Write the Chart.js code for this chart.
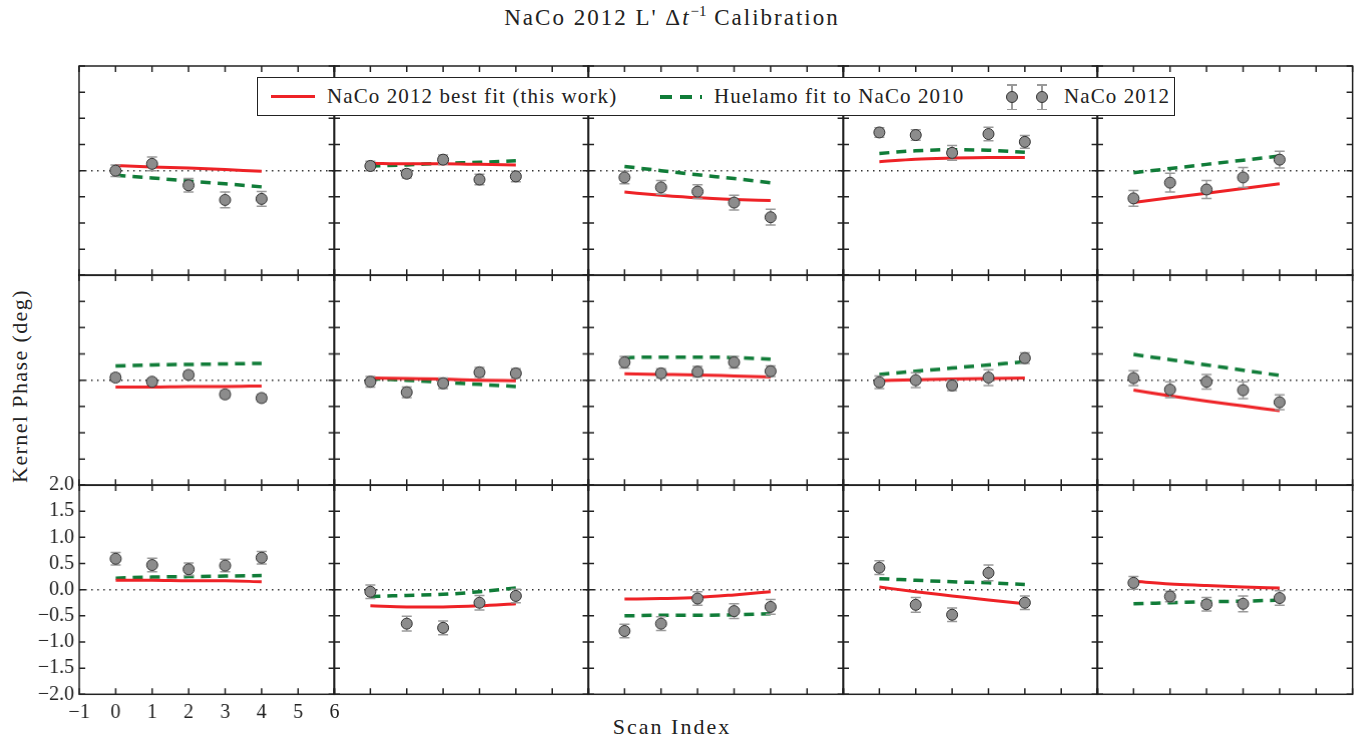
<!DOCTYPE html>
<html>
<head>
<meta charset="utf-8">
<script src="https://cdn.jsdelivr.net/npm/chart.js@4.4.0/dist/chart.umd.min.js"></script>
<style>
  html, body { margin: 0; padding: 0; background: #fff; }
  body { width: 1359px; height: 740px; position: relative; overflow: hidden; font-family: "Liberation Serif", serif; color: #222; }
  .panel { position: absolute; }
  .panel canvas { display: block; }
  #title { position: absolute; left: 0; width: 1344px; top: 3px; text-align: center; font-size: 23px; letter-spacing: 2px; }
  #title sup { font-size: 15px; letter-spacing: 0; }
  #xlabel { position: absolute; left: 0; width: 1344px; top: 714px; text-align: center; font-size: 22px; letter-spacing: 2px; }
  #ylabel { position: absolute; left: 20px; top: 386px; transform: translate(-50%, -50%) rotate(-90deg); white-space: nowrap; font-size: 22px; letter-spacing: 1.4px; }
  #legend { position: absolute; left: 257px; top: 77px; width: 916px; height: 37px; border: 1.5px solid #222; background: #fff; font-size: 21px; letter-spacing: 1.1px; }
  #legend .txt { position: absolute; top: 6px; white-space: nowrap; }
  #legend .sw { position: absolute; }
</style>
</head>
<body>
<div id="title">NaCo 2012 L' Δ<i>t</i><sup>−1</sup> Calibration</div>
<div id="ylabel">Kernel Phase (deg)</div>
<div id="xlabel">Scan Index</div>
<div id="charts"></div>
<div id="legend">
  <div class="sw" style="left:13px; top:17px; width:44px; height:3px; background:rgb(238,34,38);"></div>
  <div class="txt" style="left:69px;">NaCo 2012 best fit (this work)</div>
  <div class="sw" style="left:402px; top:17px; width:42px; height:4px; background:repeating-linear-gradient(90deg, rgb(16,124,56) 0 12px, transparent 12px 20px);"></div>
  <div class="txt" style="left:456px;">Huelamo fit to NaCo 2010</div>
  <div class="sw" style="left:746px; top:6px; width:16px; height:26px;">
    <div style="position:absolute; left:7px; top:0; width:1.5px; height:26px; background:#999;"></div>
    <div style="position:absolute; left:3px; top:0; width:10px; height:1.5px; background:#999;"></div>
    <div style="position:absolute; left:3px; top:24.5px; width:10px; height:1.5px; background:#999;"></div>
    <div style="position:absolute; left:2px; top:7px; width:10px; height:10px; border-radius:50%; background:#8c8c8c; border:1px solid #333;"></div>
  </div>
  <div class="sw" style="left:776px; top:6px; width:16px; height:26px;">
    <div style="position:absolute; left:7px; top:0; width:1.5px; height:26px; background:#999;"></div>
    <div style="position:absolute; left:3px; top:0; width:10px; height:1.5px; background:#999;"></div>
    <div style="position:absolute; left:3px; top:24.5px; width:10px; height:1.5px; background:#999;"></div>
    <div style="position:absolute; left:2px; top:7px; width:10px; height:10px; border-radius:50%; background:#8c8c8c; border:1px solid #333;"></div>
  </div>
  <div class="txt" style="left:806px;">NaCo 2012</div>
</div>

<script>
// Data: 15 kernel phases, 5 scans each (rows of 5 panels, top to bottom)
const scanIndex = [0, 1, 2, 3, 4];

const naco2012 = [
  [0.00, 0.13, -0.28, -0.56, -0.54],
  [0.09, -0.06, 0.21, -0.17, -0.11],
  [-0.13, -0.32, -0.40, -0.61, -0.89],
  [0.73, 0.68, 0.34, 0.70, 0.55],
  [-0.53, -0.23, -0.36, -0.13, 0.21],
  [0.05, -0.03, 0.10, -0.27, -0.34],
  [-0.03, -0.23, -0.06, 0.15, 0.13],
  [0.34, 0.13, 0.16, 0.34, 0.17],
  [-0.04, 0.00, -0.10, 0.05, 0.42],
  [0.04, -0.18, -0.03, -0.19, -0.42],
  [0.59, 0.47, 0.39, 0.46, 0.61],
  [-0.04, -0.65, -0.73, -0.25, -0.12],
  [-0.79, -0.65, -0.17, -0.41, -0.33],
  [0.42, -0.29, -0.48, 0.32, -0.25],
  [0.13, -0.13, -0.28, -0.27, -0.16]
];

const naco2012Err = [
  [0.11, 0.13, 0.13, 0.15, 0.14],
  [0.09, 0.08, 0.09, 0.10, 0.10],
  [0.12, 0.13, 0.13, 0.14, 0.15],
  [0.09, 0.10, 0.14, 0.13, 0.12],
  [0.15, 0.18, 0.17, 0.19, 0.16],
  [0.07, 0.06, 0.07, 0.07, 0.07],
  [0.10, 0.10, 0.10, 0.09, 0.09],
  [0.11, 0.09, 0.10, 0.11, 0.10],
  [0.12, 0.14, 0.10, 0.15, 0.10],
  [0.14, 0.15, 0.14, 0.16, 0.14],
  [0.12, 0.13, 0.12, 0.12, 0.12],
  [0.13, 0.14, 0.13, 0.14, 0.13],
  [0.13, 0.13, 0.13, 0.14, 0.14],
  [0.13, 0.14, 0.13, 0.15, 0.13],
  [0.12, 0.10, 0.13, 0.15, 0.14]
];

const bestFit = [
  [0.10, 0.07, 0.05, 0.02, -0.01],
  [0.14, 0.13, 0.13, 0.12, 0.11],
  [-0.41, -0.47, -0.52, -0.55, -0.57],
  [0.17, 0.22, 0.24, 0.25, 0.25],
  [-0.61, -0.52, -0.43, -0.34, -0.25],
  [-0.13, -0.13, -0.12, -0.12, -0.11],
  [0.04, 0.03, 0.02, 0.00, -0.01],
  [0.12, 0.11, 0.10, 0.08, 0.06],
  [-0.01, 0.01, 0.02, 0.03, 0.04],
  [-0.19, -0.30, -0.40, -0.49, -0.58],
  [0.18, 0.18, 0.17, 0.17, 0.15],
  [-0.31, -0.33, -0.33, -0.31, -0.27],
  [-0.18, -0.17, -0.15, -0.10, -0.04],
  [0.05, -0.04, -0.12, -0.20, -0.27],
  [0.16, 0.11, 0.08, 0.05, 0.03]
];

const huelamoFit = [
  [-0.09, -0.14, -0.20, -0.25, -0.31],
  [0.09, 0.11, 0.14, 0.16, 0.19],
  [0.08, 0.00, -0.08, -0.15, -0.23],
  [0.33, 0.38, 0.40, 0.39, 0.35],
  [-0.04, 0.04, 0.12, 0.20, 0.28],
  [0.27, 0.29, 0.30, 0.31, 0.32],
  [0.03, 0.00, -0.04, -0.08, -0.12],
  [0.43, 0.44, 0.44, 0.43, 0.40],
  [0.11, 0.17, 0.23, 0.29, 0.35],
  [0.49, 0.39, 0.29, 0.19, 0.09],
  [0.22, 0.24, 0.25, 0.26, 0.27],
  [-0.13, -0.11, -0.09, -0.04, 0.03],
  [-0.50, -0.49, -0.49, -0.48, -0.46],
  [0.21, 0.18, 0.15, 0.13, 0.10],
  [-0.27, -0.25, -0.23, -0.22, -0.20]
];

const xTicks = [-1, 0, 1, 2, 3, 4, 5, 6];
const yTicks = [-2.0, -1.5, -1.0, -0.5, 0.0, 0.5, 1.0, 1.5, 2.0];

// Layout
const GRID_LEFT = 79, GRID_TOP = 66;
const PANEL_W = 254.6, PANEL_H = 209.3;
const PAD = 4;
const RED = 'rgb(238,34,38)';
const GREEN = 'rgb(16,124,56)';
const FONT = '"Liberation Serif", serif';

function toPoints(vals) {
  return scanIndex.map((x, i) => ({ x: x, y: vals[i] }));
}

function minusSign(v) {
  return String(v).replace('-', '\u2212');
}

// frame, inward ticks, dotted zero line and error bars
var panelDecor = {
  id: 'panelDecor',
  beforeDatasetsDraw(chart) {
    const ctx = chart.ctx, a = chart.chartArea, ys = chart.scales.y;
    const y0 = ys.getPixelForValue(0);
    ctx.save();
    ctx.strokeStyle = '#333';
    ctx.lineWidth = 1.5;
    ctx.setLineDash([1.5, 4.5]);
    ctx.beginPath();
    ctx.moveTo(a.left, y0);
    ctx.lineTo(a.right, y0);
    ctx.stroke();
    ctx.restore();
  },
  beforeDatasetDraw(chart, args) {
    const ds = chart.data.datasets[args.index];
    if (!ds.errors) return;
    const ctx = chart.ctx, xs = chart.scales.x, ys = chart.scales.y;
    ctx.save();
    ctx.strokeStyle = '#999';
    ctx.lineWidth = 1.5;
    ds.data.forEach((p, i) => {
      const px = xs.getPixelForValue(p.x);
      const top = ys.getPixelForValue(p.y + ds.errors[i]);
      const bot = ys.getPixelForValue(p.y - ds.errors[i]);
      ctx.beginPath();
      ctx.moveTo(px, top); ctx.lineTo(px, bot);
      ctx.moveTo(px - 5, top); ctx.lineTo(px + 5, top);
      ctx.moveTo(px - 5, bot); ctx.lineTo(px + 5, bot);
      ctx.stroke();
    });
    ctx.restore();
  },
  afterDraw(chart) {
    const ctx = chart.ctx, a = chart.chartArea, xs = chart.scales.x, ys = chart.scales.y;
    ctx.save();
    ctx.strokeStyle = '#222';
    ctx.lineWidth = 1.5;
    ctx.beginPath();
    xTicks.forEach(v => {
      const px = xs.getPixelForValue(v);
      ctx.moveTo(px, a.bottom); ctx.lineTo(px, a.bottom - 6);
      ctx.moveTo(px, a.top); ctx.lineTo(px, a.top + 6);
    });
    yTicks.forEach(v => {
      const py = ys.getPixelForValue(v);
      ctx.moveTo(a.left, py); ctx.lineTo(a.left + 6, py);
      ctx.moveTo(a.right, py); ctx.lineTo(a.right - 6, py);
    });
    ctx.stroke();
    ctx.strokeRect(a.left, a.top, a.right - a.left, a.bottom - a.top);
    ctx.restore();
  }
};

function makePanel(k) {
  const row = Math.floor(k / 5), col = k % 5;
  const labelled = (row === 2 && col === 0);
  const extraL = labelled ? 66 : 0;
  const extraB = labelled ? 34 : 0;
  const extraR = labelled ? 10 : 0;
  const extraT = labelled ? 12 : 0;

  const box = document.createElement('div');
  box.className = 'panel';
  box.style.left = (GRID_LEFT + col * PANEL_W - PAD - extraL) + 'px';
  box.style.top = (GRID_TOP + row * PANEL_H - PAD - extraT) + 'px';
  box.style.width = (PANEL_W + 2 * PAD + extraL + extraR) + 'px';
  box.style.height = (PANEL_H + 2 * PAD + extraB + extraT) + 'px';
  const canvas = document.createElement('canvas');
  box.appendChild(canvas);
  document.getElementById('charts').appendChild(box);

  new Chart(canvas.getContext('2d'), {
    type: 'scatter',
    data: {
      datasets: [{
        label: 'NaCo 2012',
        data: toPoints(naco2012[k]),
        errors: naco2012Err[k],
        pointRadius: 5.5,
        pointBackgroundColor: '#8c8c8c',
        pointBorderColor: '#333',
        pointBorderWidth: 1,
        showLine: false,
        order: 0
      }, {
        label: 'NaCo 2012 best fit (this work)',
        data: toPoints(bestFit[k]),
        showLine: true,
        borderColor: RED,
        borderWidth: 3,
        pointRadius: 0,
        cubicInterpolationMode: 'monotone',
        order: 1
      }, {
        label: 'Huelamo fit to NaCo 2010',
        data: toPoints(huelamoFit[k]),
        showLine: true,
        borderColor: GREEN,
        borderWidth: 3.5,
        borderDash: [10, 7],
        pointRadius: 0,
        cubicInterpolationMode: 'monotone',
        order: 2
      }]
    },
    options: {
      responsive: true,
      maintainAspectRatio: false,
      animation: false,
      events: [],
      layout: {
        autoPadding: false,
        padding: { left: PAD, top: PAD + extraT, right: PAD + extraR, bottom: PAD }
      },
      scales: {
        x: {
          type: 'linear',
          min: -1,
          max: 6,
          display: labelled,
          grid: { display: false, drawTicks: false },
          border: { display: false },
          afterFit: s => {
            s.height = extraB;
            s.paddingLeft = 0; s.paddingRight = 0;
          },
          ticks: {
            stepSize: 1,
            autoSkip: false,
            maxRotation: 0,
            padding: 6,
            color: '#222',
            font: { family: FONT, size: 20 },
            callback: v => minusSign(v)
          }
        },
        y: {
          min: -2,
          max: 2,
          display: labelled,
          grid: { display: false, drawTicks: false },
          border: { display: false },
          afterFit: s => {
            s.width = extraL;
            s.paddingTop = 0; s.paddingBottom = 0;
          },
          ticks: {
            stepSize: 0.5,
            autoSkip: false,
            padding: 5,
            color: '#222',
            font: { family: FONT, size: 20 },
            callback: v => minusSign(v.toFixed(1))
          }
        }
      },
      plugins: {
        legend: { display: false },
        tooltip: { enabled: false }
      }
    },
    plugins: [panelDecor]
  });
}

for (let k = 0; k < 15; k++) makePanel(k);
</script>
</body>
</html>
